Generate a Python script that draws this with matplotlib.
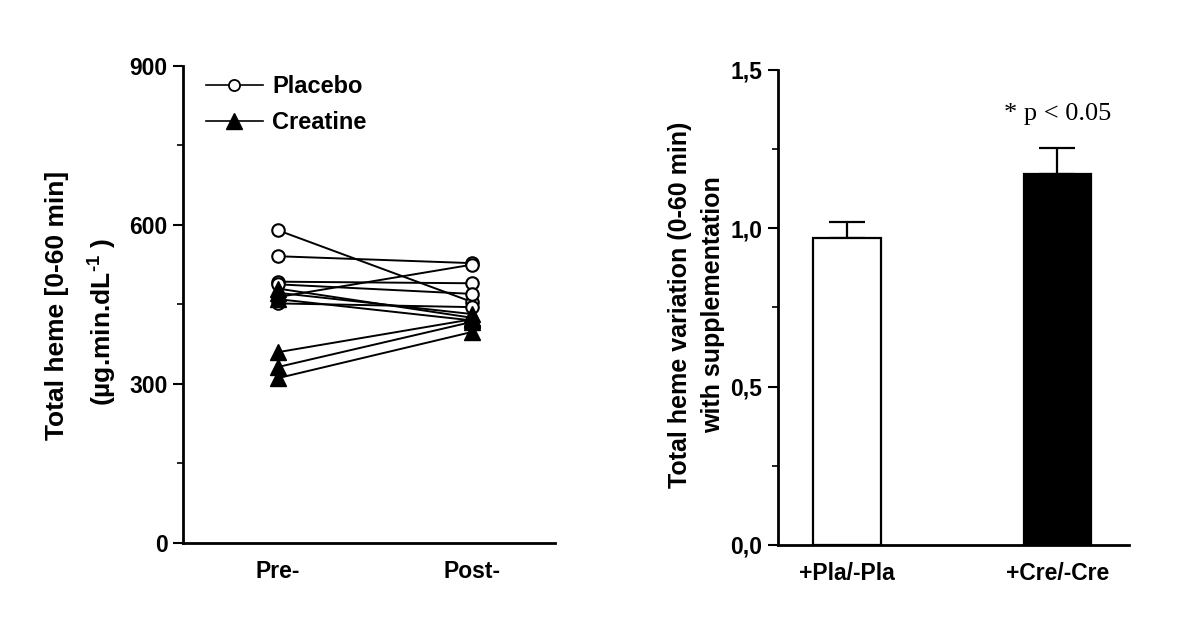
import matplotlib

matplotlib.use("Agg")
import matplotlib.pyplot as plt
from matplotlib.ticker import FixedLocator

plt.rcParams["font.family"] = ["Liberation Sans", "DejaVu Sans"]
plt.rcParams["font.weight"] = "bold"
plt.rcParams["mathtext.fontset"] = "custom"
plt.rcParams["mathtext.rm"] = "Liberation Sans:bold"
plt.rcParams["mathtext.default"] = "rm"

# left panel: individual subjects, pre vs post
time_labels = ["Pre-", "Post-"]
placebo_pre = [590, 541, 464, 493, 488, 452]
placebo_post = [455, 528, 525, 490, 470, 445]
creatine_pre = [480, 472, 460, 360, 332, 311]
creatine_post = [425, 432, 420, 422, 417, 398]

# right panel: ratio of total heme with supplementation
groups = ["+Pla/-Pla", "+Cre/-Cre"]
ratio_mean = [0.97, 1.17]
ratio_err = [0.05, 0.083]
bar_colors = ["white", "black"]
annotation = "* p < 0.05"

fig = plt.figure(figsize=(12, 6.27), dpi=100)
ax1 = fig.add_axes([0.1525, 0.134, 0.31, 0.7608])
ax2 = fig.add_axes([0.648, 0.1308, 0.2925, 0.7576])

x = [0, 1]
for pre, post in zip(placebo_pre, placebo_post):
    ax1.plot(x, [pre, post], color="black", linewidth=1.4, zorder=1)
for pre, post in zip(creatine_pre, creatine_post):
    ax1.plot(x, [pre, post], color="black", linewidth=1.4, zorder=1)
ax1.plot([0] * len(placebo_pre), placebo_pre, "o", ms=9, mfc="white", mec="black", mew=1.5, zorder=3)
ax1.plot([1] * len(placebo_post), placebo_post, "o", ms=9, mfc="white", mec="black", mew=1.5, zorder=3)
ax1.plot([0] * len(creatine_pre), creatine_pre, "^", ms=11, color="black", zorder=4)
ax1.plot([1] * len(creatine_post), creatine_post, "^", ms=11, color="black", zorder=4)

# legend handles
ax1.plot([], [], "-o", color="black", ms=8, mfc="white", mew=1.3, lw=1.2, label="Placebo")
ax1.plot([], [], "-^", color="black", ms=11, lw=1.2, label="Creatine")
ax1.legend(loc="upper left", frameon=False, fontsize=17, handlelength=2.4,
           handletextpad=0.4, borderaxespad=0.1, labelspacing=0.55,
           bbox_to_anchor=(0.03, 1.005))

ax1.set_xlim(-0.49, 1.43)
ax1.set_ylim(0, 900)
ax1.set_xticks(x)
ax1.set_xticklabels(time_labels)
ax1.set_yticks([0, 300, 600, 900])
ax1.yaxis.set_minor_locator(FixedLocator([150, 450, 750]))

ax2.bar(x, ratio_mean, width=0.32, color=bar_colors, edgecolor="black", linewidth=1.6, zorder=2)
for xi, m, e in zip(x, ratio_mean, ratio_err):
    ax2.errorbar(xi, m, yerr=[[0], [e]], color="black", elinewidth=1.6,
                 capsize=13, capthick=1.6, zorder=1)
ax2.text(x[1], 1.36, annotation, ha="center", va="center", fontsize=19,
         family=["Liberation Serif", "DejaVu Serif"], fontweight="normal")

ax2.set_xlim(-0.33, 1.34)
ax2.set_ylim(0, 1.5)
ax2.set_xticks(x)
ax2.set_xticklabels(groups)
ax2.set_yticks([0, 0.5, 1.0, 1.5])
ax2.set_yticklabels(["0,0", "0,5", "1,0", "1,5"])
ax2.yaxis.set_minor_locator(FixedLocator([0.25, 0.75, 1.25]))

for ax in (ax1, ax2):
    for side in ("top", "right"):
        ax.spines[side].set_visible(False)
    for side in ("left", "bottom"):
        ax.spines[side].set_linewidth(2)
    ax.tick_params(axis="x", length=0, labelsize=16.5, pad=12)
    ax.tick_params(axis="y", which="major", length=7, width=1.5, labelsize=16.5, pad=4)
    ax.tick_params(axis="y", which="minor", length=4, width=1.2)

fig.text(57 / 1200, 1 - 305 / 627, "Total heme [0-60 min]", rotation=90,
         ha="center", va="center", fontsize=19, fontweight="bold")
fig.text(103 / 1200, 1 - 322 / 627, r"(µg.min.dL$^{\text{-1}}$ )", rotation=90,
         ha="center", va="center", fontsize=19, fontweight="bold")
fig.text(680 / 1200, 1 - 305 / 627, "Total heme variation (0-60 min)", rotation=90,
         ha="center", va="center", fontsize=18, fontweight="bold")
fig.text(713 / 1200, 1 - 305 / 627, "with supplementation", rotation=90,
         ha="center", va="center", fontsize=18, fontweight="bold")

fig.savefig("out.png", dpi=100)
